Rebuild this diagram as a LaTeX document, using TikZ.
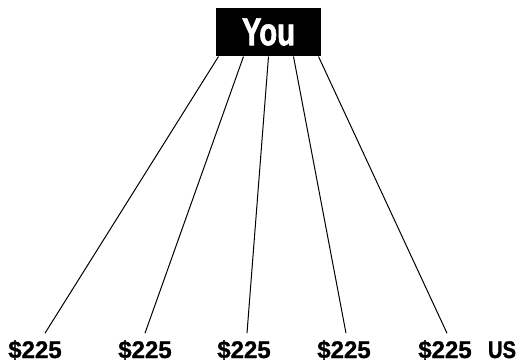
\documentclass[tikz,border=0pt]{standalone}
\usepackage{fontspec}
\usepackage{tikz}
\usetikzlibrary{positioning}

\newfontfamily\labelfont{Liberation Sans}[BoldFeatures={FakeBold=1.2}]
\newfontfamily\youfont{Liberation Sans}[FakeStretch=0.75,BoldFeatures={FakeBold=1.5}]
\newfontfamily\usfont{Liberation Sans}[FakeStretch=0.84,BoldFeatures={FakeBold=1.2}]

\begin{document}
\begin{tikzpicture}[x=1pt,y=-1pt,line width=1pt]

\useasboundingbox (0,0) rectangle (520,362);

\tikzset{
    youbox/.style={fill=black, text=white, minimum width=105pt,
        minimum height=48pt, inner sep=0pt,
        font=\youfont\bfseries\fontsize{39}{42}\selectfont},
    share/.style={anchor=base, inner sep=0pt, outer sep=0pt,
        font=\labelfont\bfseries\fontsize{24}{28}\selectfont}
}

% Top box
\node[youbox] (you) at (268.5,32) {You};

% Shares
\foreach \i/\x in {1/35,2/145,3/244,4/344,5/445}{
    \node[share] (s\i) at (\x,358) {\$225};
}

\node[share, font=\usfont\bfseries\fontsize{24}{28}\selectfont]
    (us) at (502,358) {US};

% Connectors
\foreach \i/\a/\b in {1/-50/10,2/-25/0,3/0/3,4/25/2,5/50/2}{
    \draw ([xshift=\a pt]you.south)
        -- ([xshift=\b pt,yshift=7pt]s\i.north);
}

\end{tikzpicture}
\end{document}
